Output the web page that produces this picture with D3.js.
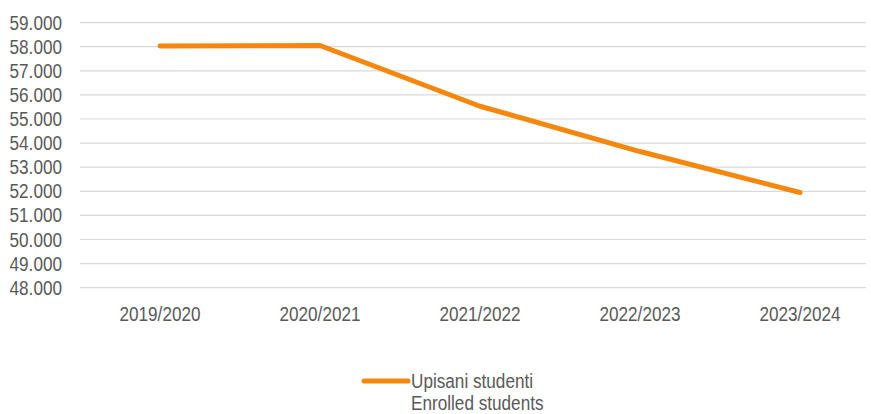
<!DOCTYPE html>
<html>
<head>
<meta charset="utf-8">
<script src="https://cdn.jsdelivr.net/npm/d3@7"></script>
<style>
  html, body { margin: 0; padding: 0; background: #fff; }
  svg text { font-family: "Liberation Sans", Arial, sans-serif; fill: #595959; }
</style>
</head>
<body>
<svg id="chart" width="871" height="414"></svg>
<script>
// Academic years and number of enrolled students
const years = ["2019/2020", "2020/2021", "2021/2022", "2022/2023", "2023/2024"];
const enrolled = [58030, 58050, 55530, 53650, 51950];
const yTicks = [48000, 49000, 50000, 51000, 52000, 53000, 54000, 55000, 56000, 57000, 58000, 59000];
const legendLines = ["Upisani studenti", "Enrolled students"];

const lineColor = "#f5870f";
const fontSize = 19.5;
const narrow = 0.88; // condensed look for labels
const svg = d3.select("#chart");
const plot = { left: 80, right: 866, top: 22.6, bottom: 287.7 };

const x = d3.scaleBand().domain(years).range([plot.left, plot.left + 160 * 5]);
const y = d3.scaleLinear().domain([48000, 59000]).range([plot.bottom, plot.top]);

const fmt = v => d3.format(",")(v).replace(/,/g, ".");

// horizontal gridlines
svg.append("g").selectAll("line").data(yTicks).join("line")
  .attr("x1", plot.left).attr("x2", plot.right)
  .attr("y1", d => y(d)).attr("y2", d => y(d))
  .attr("stroke", "#d9d9d9").attr("stroke-width", 1.2);

// y axis labels
svg.append("g").selectAll("text").data(yTicks).join("text")
  .attr("transform", d => `translate(${plot.left - 18},${y(d)}) scale(${narrow},1)`)
  .attr("text-anchor", "end").attr("dy", "0.36em")
  .attr("font-size", fontSize)
  .text(fmt);

// x axis labels
svg.append("g").selectAll("text").data(years).join("text")
  .attr("transform", d => `translate(${x(d) + x.bandwidth() / 2},${plot.bottom + 33}) scale(${narrow},1)`)
  .attr("text-anchor", "middle")
  .attr("font-size", fontSize)
  .text(d => d);

// series line
const line = d3.line().x((d, i) => x(years[i]) + x.bandwidth() / 2).y(d => y(d));
svg.append("path").datum(enrolled)
  .attr("d", line)
  .attr("fill", "none").attr("stroke", lineColor)
  .attr("stroke-width", 5).attr("stroke-linecap", "round").attr("stroke-linejoin", "round");

// legend
const lg = svg.append("g");
lg.append("line").attr("x1", 364).attr("x2", 408).attr("y1", 381).attr("y2", 381)
  .attr("stroke", lineColor).attr("stroke-width", 5).attr("stroke-linecap", "round");
lg.selectAll("text").data(legendLines).join("text")
  .attr("transform", (d, i) => `translate(411,${388 + i * 22}) scale(${narrow},1)`)
  .attr("font-size", fontSize)
  .text(d => d);
</script>
</body>
</html>
